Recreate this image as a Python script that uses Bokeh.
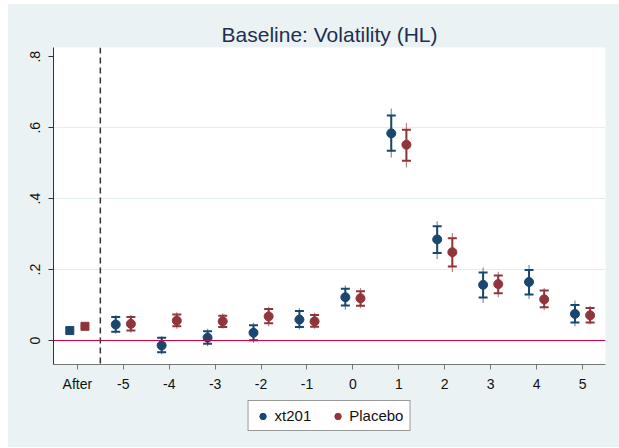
from bokeh.plotting import figure
from bokeh.models import (ColumnDataSource, FixedTicker, Span, Whisker, TeeHead,
                          Legend, LegendItem, Range1d, Spacer)
from bokeh.layouts import row, column
from bokeh.embed import file_html
from bokeh.resources import INLINE

# ---- data ----
tick_labels = ["After", "-5", "-4", "-3", "-2", "-1", "0", "1", "2", "3", "4", "5"]
periods = ["-5", "-4", "-3", "-2", "-1", "0", "1", "2", "3", "4", "5"]

after_xt201 = 0.028
after_placebo = 0.040

xt201_est = [0.045, -0.014, 0.008, 0.022, 0.059, 0.122, 0.584, 0.285, 0.157, 0.165, 0.075]
xt201_lo90 = [0.025, -0.033, -0.009, 0.001, 0.038, 0.099, 0.535, 0.247, 0.121, 0.130, 0.051]
xt201_hi90 = [0.066, 0.008, 0.026, 0.043, 0.083, 0.146, 0.634, 0.322, 0.192, 0.199, 0.100]
xt201_lo95 = [0.019, -0.039, -0.016, -0.006, 0.031, 0.087, 0.516, 0.230, 0.106, 0.117, 0.040]
xt201_hi95 = [0.072, 0.012, 0.033, 0.050, 0.091, 0.155, 0.654, 0.336, 0.206, 0.213, 0.113]

placebo_est = [0.047, 0.056, 0.054, 0.068, 0.054, 0.119, 0.552, 0.249, 0.159, 0.116, 0.071]
placebo_lo90 = [0.028, 0.040, 0.038, 0.049, 0.039, 0.098, 0.507, 0.209, 0.133, 0.094, 0.051]
placebo_hi90 = [0.066, 0.073, 0.070, 0.089, 0.072, 0.139, 0.594, 0.288, 0.183, 0.141, 0.092]
placebo_lo95 = [0.022, 0.033, 0.033, 0.040, 0.033, 0.091, 0.488, 0.193, 0.122, 0.085, 0.045]
placebo_hi95 = [0.072, 0.080, 0.077, 0.096, 0.078, 0.148, 0.613, 0.303, 0.194, 0.148, 0.098]

y_ticks = [0, 0.2, 0.4, 0.6, 0.8]
y_tick_labels = ["0", ".2", ".4", ".6", ".8"]
grid_ticks = [0.2, 0.4, 0.6]
series_names = ["xt201", "Placebo"]

# ---- style ----
BLUE = "#1a476f"
RED = "#90353b"
BG = "#eaf2f3"
FONT = "Liberation Sans"
OFF = 0.165

x_pos = [tick_labels.index(p) for p in periods]

def src(est, lo90, hi90, lo95, hi95, shift):
    return ColumnDataSource(dict(
        x=[v + shift for v in x_pos], est=est,
        lo90=lo90, hi90=hi90, lo95=lo95, hi95=hi95))

s_blue = src(xt201_est, xt201_lo90, xt201_hi90, xt201_lo95, xt201_hi95, -OFF)
s_red = src(placebo_est, placebo_lo90, placebo_hi90, placebo_lo95, placebo_hi95, OFF)

p = figure(width=611, height=391, output_backend="svg", toolbar_location=None,
           x_range=Range1d(-0.52, 11.5), y_range=Range1d(-0.0676, 0.826),
           min_border_left=45, min_border_right=14, min_border_top=43,
           min_border_bottom=31)
p.border_fill_color = BG
p.background_fill_color = "white"
p.outline_line_color = None

p.title.text = "Baseline: Volatility (HL)"
p.title.align = "center"
p.title.text_font = FONT
p.title.text_font_size = "21px"
p.title.text_font_style = "normal"
p.title.text_color = "#1e2f4f"
p.title.standoff = 3

# axes
p.xaxis.ticker = FixedTicker(ticks=list(range(len(tick_labels))))
p.xaxis.major_label_overrides = {i: t for i, t in enumerate(tick_labels)}
p.yaxis.ticker = FixedTicker(ticks=y_ticks)
p.yaxis.major_label_overrides = {v: t for v, t in zip(y_ticks, y_tick_labels)}
p.yaxis.major_label_orientation = "vertical"
for ax in (p.xaxis, p.yaxis):
    ax.major_label_text_font = FONT
    ax.major_label_text_font_size = "14px"
    ax.major_label_text_color = "#111111"
    ax.major_tick_in = 0
    ax.major_tick_out = 5
    ax.minor_tick_line_color = None
p.xaxis.major_label_standoff = 6
p.yaxis.major_label_standoff = 8
p.xaxis.axis_line_color = "#777777"
p.xaxis.major_tick_line_color = "#777777"
p.yaxis.axis_line_color = "#333333"
p.yaxis.major_tick_line_color = "#333333"

p.xgrid.grid_line_color = None
p.ygrid.ticker = FixedTicker(ticks=grid_ticks)
p.ygrid.grid_line_color = "#e4eef0"
p.ygrid.grid_line_width = 1

# reference lines
p.add_layout(Span(location=0, dimension="width", line_color="#d8003a", line_width=1.2))
p.add_layout(Span(location=0.5, dimension="height", line_color="#333333",
                  line_width=1.5, line_dash="6 4"))

# confidence intervals
for s, c in ((s_blue, BLUE), (s_red, RED)):
    p.segment(x0="x", y0="lo95", x1="x", y1="hi95", source=s,
              line_color=c, line_width=1.2, line_alpha=0.6)
    p.segment(x0="x", y0="lo90", x1="x", y1="hi90", source=s,
              line_color=c, line_width=2)
    w = Whisker(base="x", lower="lo90", upper="hi90", source=s, dimension="height",
                line_color=c, line_width=0,
                upper_head=TeeHead(size=9, line_color=c, line_width=2),
                lower_head=TeeHead(size=9, line_color=c, line_width=2))
    p.add_layout(w)

p.scatter(x="x", y="est", source=s_blue, marker="circle", size=9,
          fill_color=BLUE, line_color=BLUE)
p.scatter(x="x", y="est", source=s_red, marker="circle", size=9,
          fill_color=RED, line_color=RED)

after_x = tick_labels.index("After")
p.scatter(x=[after_x - OFF], y=[after_xt201], marker="square", size=8,
          fill_color=BLUE, line_color=BLUE)
p.scatter(x=[after_x + OFF], y=[after_placebo], marker="square", size=8,
          fill_color=RED, line_color=RED)

# ---- legend strip (separate small figure below the chart) ----
q = figure(width=611, height=52, output_backend="svg", toolbar_location=None,
           x_range=Range1d(0, 1), y_range=Range1d(0, 1),
           x_axis_location=None, y_axis_location=None,
           min_border_left=45, min_border_right=14, min_border_top=0,
           min_border_bottom=0)
q.border_fill_color = BG
q.background_fill_color = BG
q.outline_line_color = None
q.grid.grid_line_color = None
lr_blue = q.scatter(x=[-5], y=[-5], marker="circle", size=8,
                    fill_color=BLUE, line_color=BLUE)
lr_red = q.scatter(x=[-5], y=[-5], marker="circle", size=8,
                   fill_color=RED, line_color=RED)

legend = Legend(items=[LegendItem(label=series_names[0], renderers=[lr_blue]),
                       LegendItem(label=series_names[1], renderers=[lr_red])],
                orientation="horizontal", location="top_center")
legend.label_text_font = FONT
legend.label_text_font_size = "15px"
legend.label_text_color = "#111111"
legend.border_line_color = "#333333"
legend.border_line_width = 1
legend.background_fill_color = "white"
legend.background_fill_alpha = 1
legend.glyph_width = 16
legend.glyph_height = 16
legend.label_standoff = 4
legend.spacing = 18
legend.padding = 6
legend.margin = 5
q.add_layout(legend, "center")

inner = column(p, q, spacing=0, styles={"background-color": BG})
layout = row(Spacer(width=8), column(Spacer(height=4), inner))
open("out.html", "w").write(file_html(layout, INLINE))
